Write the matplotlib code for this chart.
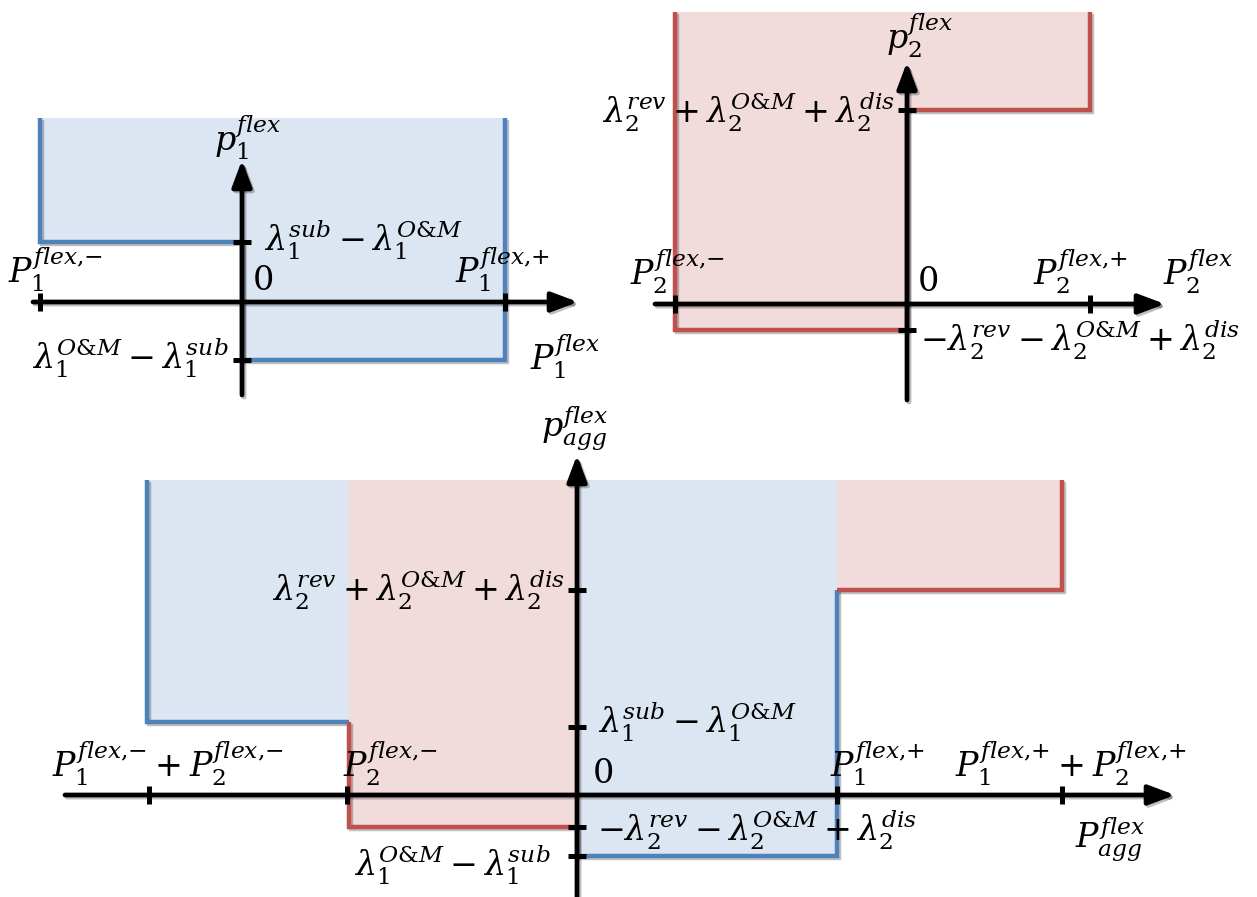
import matplotlib.pyplot as plt
from matplotlib import patheffects as pe

plt.rcParams['mathtext.fontset'] = 'custom'
plt.rcParams['mathtext.rm'] = 'DejaVu Serif'
plt.rcParams['mathtext.it'] = 'DejaVu Serif:italic'
plt.rcParams['mathtext.bf'] = 'DejaVu Serif:bold'

W, H = 1257, 897
BLUE, RED = '#4F81BD', '#C0504D'
FILLS = {BLUE: '#DCE6F2', RED: '#F2DCDB'}

# unit 1 offer curve (price steps between power breakpoints)
p1_edges = [-2.02, 0.0, 2.63]
p1_floor = [0.60, -0.58]
p1_colors = [BLUE, BLUE]
p1_top = 1.84
p1_xticks = [-2.02, 2.63]
p1_yticks = [0.60, -0.58]

# unit 2 offer curve
p2_edges = [-2.32, 0.0, 1.83]
p2_floor = [-0.26, 1.94]
p2_colors = [RED, RED]
p2_top = 2.92
p2_xticks = [-2.32, 1.83]
p2_yticks = [1.94, -0.26]

# aggregated curve
agg_edges = [-4.30, -2.28, 0.0, 2.60, 4.85]
agg_floor = [0.73, -0.32, -0.61, 2.05]
agg_colors = [BLUE, RED, BLUE, RED]
agg_top = 3.15
agg_xticks = [-4.28, -2.30, 2.60, 4.85]
agg_yticks = [2.05, 0.68, -0.32, -0.61]

lab_l1 = r'$\lambda_1^{sub}-\lambda_1^{O&M}$'
lab_l1n = r'$\lambda_1^{O&M}-\lambda_1^{sub}$'
lab_l2 = r'$\lambda_2^{rev}+\lambda_2^{O&M}+\lambda_2^{dis}$'
lab_l2n = r'$-\lambda_2^{rev}-\lambda_2^{O&M}+\lambda_2^{dis}$'
lab_1m = r'$P_1^{flex{,}{-}}$'
lab_1p = r'$P_1^{flex{,}{+}}$'
lab_2m = r'$P_2^{flex{,}{-}}$'
lab_2p = r'$P_2^{flex{,}{+}}$'

shadow = [pe.SimpleLineShadow(offset=(1.5, -1.5), alpha=0.25, shadow_color='k'), pe.Normal()]
FS = 24

fig = plt.figure(figsize=(W / 100, H / 100), dpi=100)


def panel(box, origin, scale=100):
    L, T, R, B = box
    ox, oy = origin
    ax = fig.add_axes([L / W, 1 - B / H, (R - L) / W, (B - T) / H])
    ax.set_xlim((L - ox) / scale, (R - ox) / scale)
    ax.set_ylim((oy - B) / scale, (oy - T) / scale)
    ax.axis('off')
    return ax


def draw_curve(ax, edges, floor, colors, top):
    n = len(colors)
    for i, c in enumerate(colors):
        ax.fill_between([edges[i], edges[i + 1]], floor[i], top,
                        color=FILLS[c], lw=0.8, zorder=1)
    for i, c in enumerate(colors):
        xs, ys = [], []
        if i == 0:
            xs.append(edges[0]); ys.append(top)
        elif floor[i] < floor[i - 1]:
            xs.append(edges[i]); ys.append(floor[i - 1])
        xs += [edges[i], edges[i + 1]]
        ys += [floor[i], floor[i]]
        if i == n - 1:
            xs.append(edges[-1]); ys.append(top)
        elif floor[i] < floor[i + 1]:
            xs.append(edges[i + 1]); ys.append(floor[i + 1])
        ax.plot(xs, ys, color=c, lw=3.2, solid_joinstyle='miter',
                solid_capstyle='butt', zorder=2, path_effects=shadow)


def draw_axes(ax, xr, yr, xticks, yticks):
    style = dict(arrowstyle='-|>,head_length=0.8,head_width=0.3', color='k',
                 lw=3.4, shrinkA=0, shrinkB=0, mutation_scale=20)
    a = ax.annotate('', xy=(xr[1], 0), xytext=(xr[0], 0), arrowprops=style, zorder=4)
    a.arrow_patch.set_path_effects(shadow)
    a = ax.annotate('', xy=(0, yr[1]), xytext=(0, yr[0]), arrowprops=style, zorder=4)
    a.arrow_patch.set_path_effects(shadow)
    ax.plot(xticks, [0] * len(xticks), ls='none', marker='|', ms=13, mew=3.6,
            color='k', zorder=5)
    ax.plot([0] * len(yticks), yticks, ls='none', marker='_', ms=13, mew=3.6,
            color='k', zorder=5)


# ---- panel 1
ax1 = panel((0, 100, 598, 400), (242, 302))
draw_curve(ax1, p1_edges, p1_floor, p1_colors, p1_top)
draw_axes(ax1, (-2.09, 3.36), (-0.93, 1.42), p1_xticks, p1_yticks)
ax1.text(0.06, 1.40, r'$p_1^{flex}$', fontsize=FS, ha='center', va='bottom')
ax1.text(0.22, 0.62, lab_l1, fontsize=FS, ha='left', va='center')
ax1.text(-0.14, -0.56, lab_l1n, fontsize=FS, ha='right', va='center')
ax1.text(-2.34, 0.08, lab_1m, fontsize=FS, ha='left', va='bottom')
ax1.text(0.10, 0.05, r'$0$', fontsize=FS, ha='left', va='bottom')
ax1.text(2.13, 0.08, lab_1p, fontsize=FS, ha='left', va='bottom')
ax1.text(2.88, -0.55, r'$P_1^{flex}$', fontsize=FS, ha='left', va='center', clip_on=True)

# ---- panel 2
ax2 = panel((580, 0, 1257, 405), (907, 304))
draw_curve(ax2, p2_edges, p2_floor, p2_colors, p2_top)
draw_axes(ax2, (-2.52, 2.58), (-0.96, 2.42), p2_xticks, p2_yticks)
ax2.text(0.13, 2.44, r'$p_2^{flex}$', fontsize=FS, ha='center', va='bottom')
ax2.text(-0.12, 1.92, lab_l2, fontsize=FS, ha='right', va='center')
ax2.text(0.13, -0.36, lab_l2n, fontsize=FS, ha='left', va='center')
ax2.text(-2.77, 0.08, lab_2m, fontsize=FS, ha='left', va='bottom')
ax2.text(0.10, 0.06, r'$0$', fontsize=FS, ha='left', va='bottom')
ax2.text(1.26, 0.08, lab_2p, fontsize=FS, ha='left', va='bottom')
ax2.text(2.56, 0.08, r'$P_2^{flex}$', fontsize=FS, ha='left', va='bottom',
         bbox=dict(fc='white', ec='none', pad=1), zorder=6)

# ---- aggregated panel
ax3 = panel((0, 390, 1257, 897), (577, 795))
draw_curve(ax3, agg_edges, agg_floor, agg_colors, agg_top)
draw_axes(ax3, (-5.12, 5.98), (-1.02, 3.40), agg_xticks, agg_yticks)
ax3.text(-0.02, 3.42, r'$p_{agg}^{flex}$', fontsize=FS, ha='center', va='bottom')
ax3.text(-0.12, 2.05, lab_l2, fontsize=FS, ha='right', va='center')
ax3.text(0.21, 0.73, lab_l1, fontsize=FS, ha='left', va='center')
ax3.text(0.20, -0.35, lab_l2n, fontsize=FS, ha='left', va='center')
ax3.text(-0.27, -0.70, lab_l1n, fontsize=FS, ha='right', va='center')
ax3.text(-5.25, 0.07, lab_1m[:-1] + '+' + lab_2m[1:], fontsize=FS, ha='left', va='bottom')
ax3.text(-2.34, 0.07, lab_2m, fontsize=FS, ha='left', va='bottom')
ax3.text(0.15, 0.05, r'$0$', fontsize=FS, ha='left', va='bottom')
ax3.text(2.53, 0.07, lab_1p, fontsize=FS, ha='left', va='bottom')
ax3.text(3.78, 0.07, lab_1p[:-1] + '+' + lab_2p[1:], fontsize=FS, ha='left', va='bottom')
ax3.text(4.98, -0.45, r'$P_{agg}^{flex}$', fontsize=FS, ha='left', va='center')

fig.savefig('out.png', dpi=100)
